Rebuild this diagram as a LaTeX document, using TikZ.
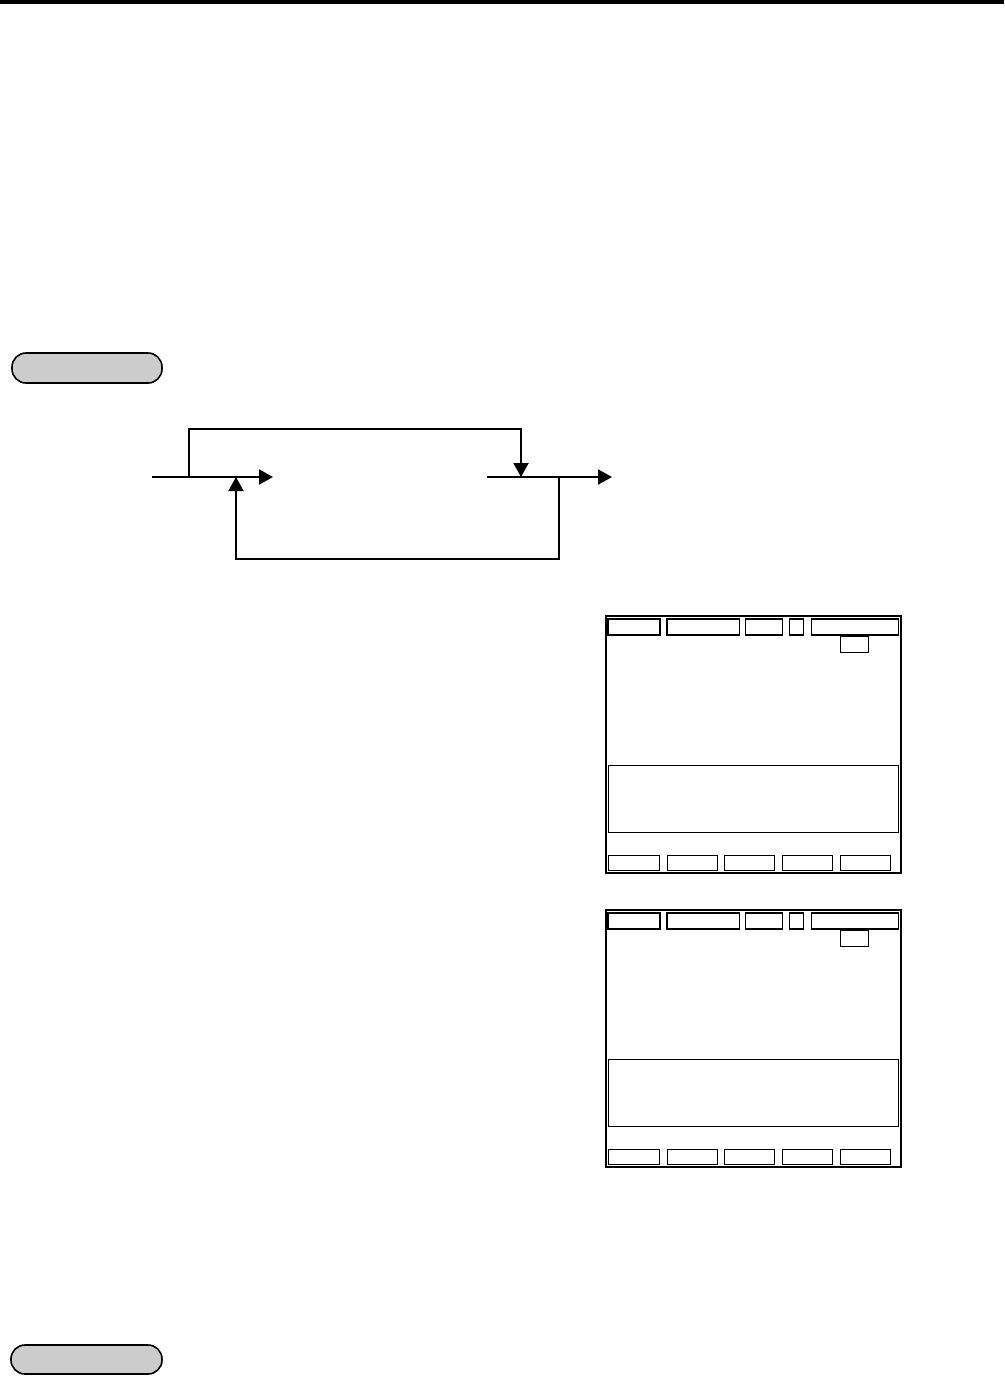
\documentclass[tikz,border=0pt]{standalone}
\usepackage{tikz}
\usetikzlibrary{arrows.meta, positioning, calc}

\begin{document}
\begin{tikzpicture}[
    x=1pt, y=-1pt,
    pill/.style={
        draw,
        fill=black!20,
        line width=1.6pt,
        rounded corners=14pt
    },
    flow/.style={line width=2pt},
    arrow/.style={flow, -{Triangle[length=14pt,width=15pt]}},
    scr/.style={draw, line width=1.3pt}
]
\useasboundingbox (0,0) rectangle (1004,1376);

% --- page header bar ---
\fill (0,0) rectangle (1004,4);

% --- section tabs ---
\draw[pill] (12,353) rectangle (162,383);
\draw[pill] (11,1345) rectangle (162,1374);

% --- flow coordinates ---
\coordinate (inL)    at (152,477);
\coordinate (split)  at (189,477);
\coordinate (joinA)  at (236,477);
\coordinate (tipA)   at (273,477);
\coordinate (outL)   at (487,477);
\coordinate (joinB)  at (521,477);
\coordinate (fb)     at (559,477);
\coordinate (tipB)   at (612,477);
\coordinate (topL)   at (189,429);
\coordinate (topR)   at (521,429);
\coordinate (botR)   at (559,559);
\coordinate (botL)   at (236,559);

% --- main line ---
\draw[arrow] (inL) -- (tipA);
\draw[arrow] (outL) -- (tipB);

% --- bypass over the top ---
\draw[arrow] (split) -- (topL) -- (topR) -- (joinB);

% --- feedback underneath ---
\draw[arrow] (fb) -- (botR) -- (botL) -- (joinA);

% --- screens ---
\foreach \dy in {0,294} {
  \begin{scope}[shift={(0,\dy)}]
    \draw[scr] (606,616) rectangle (901,873);
    % top row
    \draw[scr] (608,619) rectangle (660,635);
    \draw[scr] (667,619) rectangle (739.5,635);
    \draw[scr] (745.3,619) rectangle (782.7,635);
    \draw[scr] (789.3,619) rectangle (803.7,635);
    \draw[scr] (811.3,619) rectangle (898.7,635);
    \draw[scr] (840.3,636) rectangle (868.7,652.7);
    % message area
    \draw[scr] (608.3,765.3) rectangle (898.7,832.3);
    % soft keys
    \draw[scr] (608.3,855.3) rectangle (659.7,870.7);
    \draw[scr] (667.3,855.3) rectangle (717.7,870.7);
    \draw[scr] (724.3,855.3) rectangle (774.7,870.7);
    \draw[scr] (782.3,855.3) rectangle (832.3,870.7);
    \draw[scr] (840.3,855.3) rectangle (890.3,870.7);
  \end{scope}
}

\end{tikzpicture}
\end{document}
